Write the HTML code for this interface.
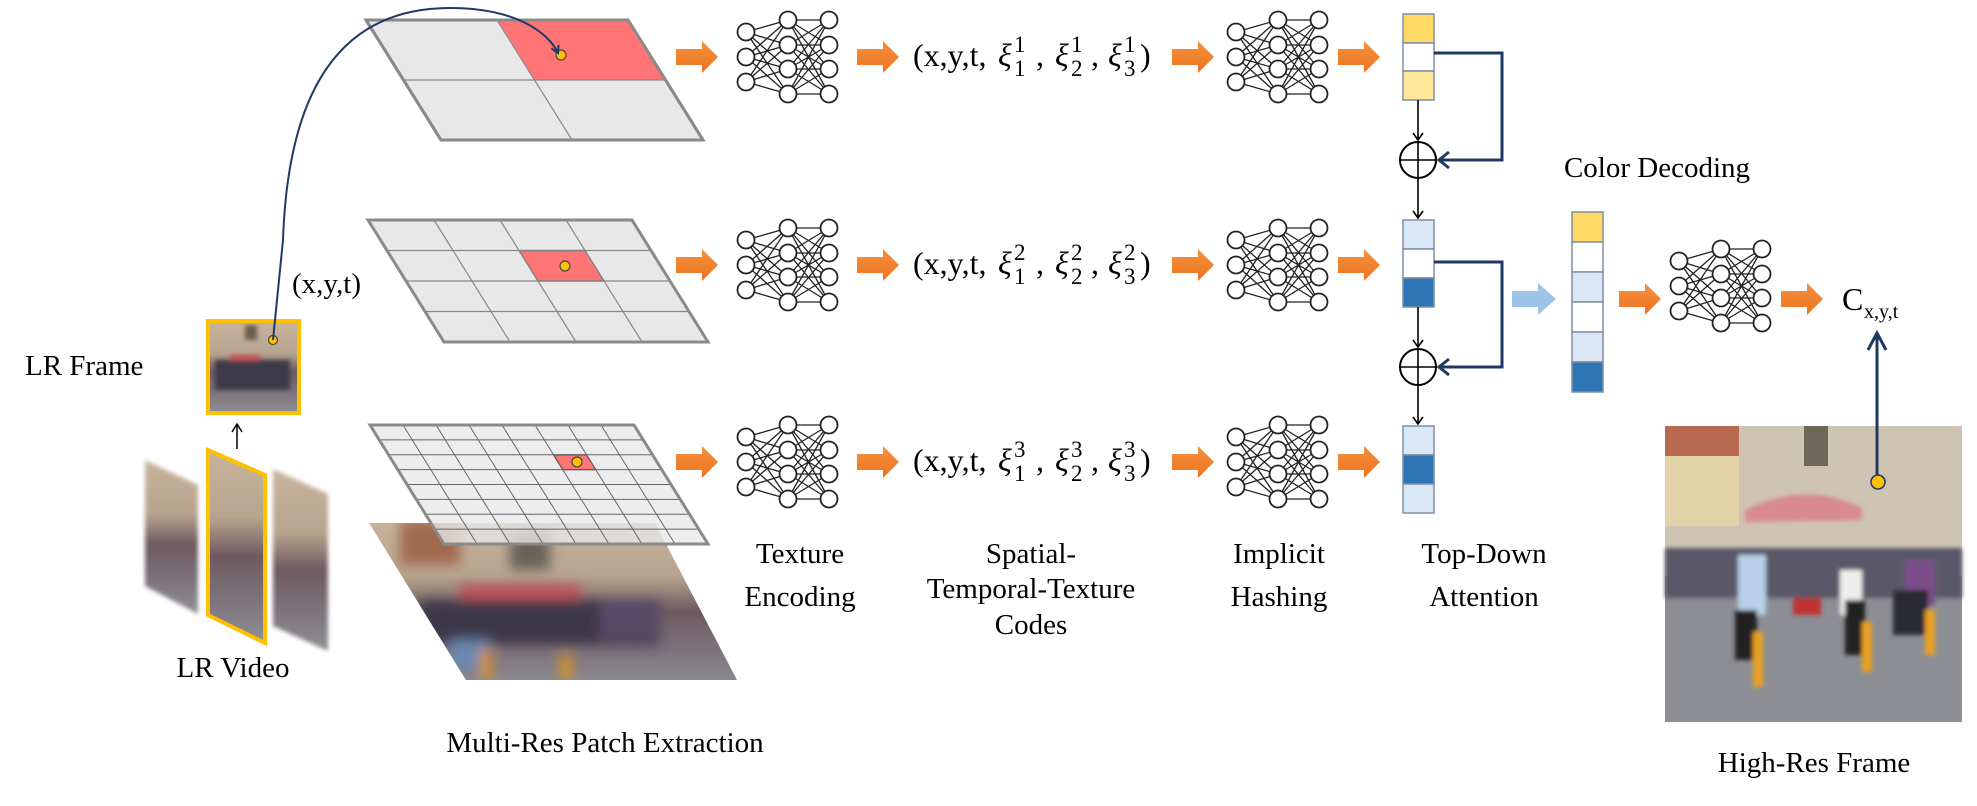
<!DOCTYPE html>
<html><head><meta charset="utf-8"><style>
html,body{margin:0;padding:0;background:#fff;}
svg{display:block;}
text{font-family:"Liberation Serif",serif;fill:#000;}
</style></head><body>
<svg width="1977" height="806" viewBox="0 0 1977 806" xmlns="http://www.w3.org/2000/svg">
<defs>
<g id="nn" stroke="#222" stroke-width="1.3" fill="none">
<path d="M9,21L51,9M9,21L51,34M9,21L51,58M9,21L51,83M9,46L51,9M9,46L51,34M9,46L51,58M9,46L51,83M9,71L51,9M9,71L51,34M9,71L51,58M9,71L51,83"/>
<path d="M51,9L92,9M51,9L92,34M51,9L92,58M51,9L92,83M51,34L92,9M51,34L92,34M51,34L92,58M51,34L92,83M51,58L92,9M51,58L92,34M51,58L92,58M51,58L92,83M51,83L92,9M51,83L92,34M51,83L92,58M51,83L92,83"/>
<g fill="#fff" stroke-width="1.8">
<circle cx="9" cy="21" r="8.5"/><circle cx="9" cy="46" r="8.5"/><circle cx="9" cy="71" r="8.5"/>
<circle cx="51" cy="9" r="8.5"/><circle cx="51" cy="34" r="8.5"/><circle cx="51" cy="58" r="8.5"/><circle cx="51" cy="83" r="8.5"/>
<circle cx="92" cy="9" r="8.5"/><circle cx="92" cy="34" r="8.5"/><circle cx="92" cy="58" r="8.5"/><circle cx="92" cy="83" r="8.5"/>
</g></g>
<linearGradient id="og" x1="0" y1="0" x2="0" y2="1"><stop offset="0" stop-color="#f4913e"/><stop offset="1" stop-color="#ee7320"/></linearGradient>
<polygon id="arr" points="0,-8 26,-8 26,-16 42,0 26,16 26,8 0,8" fill="url(#og)"/>
<linearGradient id="street" x1="0" y1="0" x2="0" y2="1">
<stop offset="0" stop-color="#c8b49c"/><stop offset="0.35" stop-color="#b7a48f"/><stop offset="0.55" stop-color="#6e5a60"/><stop offset="0.75" stop-color="#7c7078"/><stop offset="1" stop-color="#8e8f95"/></linearGradient>
<filter id="bl"><feGaussianBlur stdDeviation="6"/></filter>
<filter id="bl2"><feGaussianBlur stdDeviation="2"/></filter>
<clipPath id="cpimg"><polygon points="369,523 655,523 737,680 466,680"/></clipPath>
<clipPath id="cplr"><rect x="208" y="321" width="91" height="92"/></clipPath>
<marker id="mk" markerWidth="10" markerHeight="10" refX="8" refY="5" orient="auto" markerUnits="userSpaceOnUse"><path d="M1,1L8,5L1,9" fill="none" stroke="#1f3864" stroke-width="2"/></marker>
</defs>

<polygon points="366,20 628,20 703,140 441,140" fill="#e8e8e8" stroke="#8a8a8a" stroke-width="3"/>
<polygon points="497,20 628,20 665.5,80 534.5,80" fill="#ff7575"/>
<g stroke="#888" stroke-width="1.2"><line x1="403.5" y1="80" x2="665.5" y2="80"/><line x1="497" y1="20" x2="572" y2="140"/></g>
<polygon points="366,20 628,20 703,140 441,140" fill="none" stroke="#8a8a8a" stroke-width="3"/>
<circle cx="561" cy="55" r="5" fill="#ffc000" stroke="#444" stroke-width="1.2"/>

<polygon points="368,220 632,220 708,342 444,342" fill="#e8e8e8"/>
<polygon points="519,250.5 585,250.5 604,281 538,281" fill="#ff7575" stroke="#333" stroke-width="1.2"/>
<g stroke="#888" stroke-width="1.2">
<line x1="434" y1="220" x2="510" y2="342"/><line x1="500" y1="220" x2="576" y2="342"/><line x1="566" y1="220" x2="642" y2="342"/>
<line x1="387" y1="250.5" x2="651" y2="250.5"/><line x1="406" y1="281" x2="670" y2="281"/><line x1="425" y1="311.5" x2="689" y2="311.5"/>
</g>
<polygon points="368,220 632,220 708,342 444,342" fill="none" stroke="#8a8a8a" stroke-width="3"/>
<circle cx="565" cy="266" r="5" fill="#ffc000" stroke="#444" stroke-width="1.2"/>

<g clip-path="url(#cpimg)">
<rect x="360" y="515" width="390" height="175" fill="url(#street)"/>
<g filter="url(#bl)">
<rect x="400" y="520" width="60" height="45" fill="#a06a50"/>
<rect x="510" y="530" width="40" height="40" fill="#6a6258"/>
<rect x="460" y="585" width="120" height="14" fill="#c0505a"/>
<rect x="420" y="600" width="240" height="45" fill="#3d3848"/>
<rect x="450" y="640" width="40" height="30" fill="#6a88b0"/>
<rect x="600" y="600" width="60" height="40" fill="#584868"/>
<rect x="480" y="650" width="12" height="30" fill="#d89020"/>
<rect x="560" y="655" width="12" height="25" fill="#d89020"/>
</g>
</g>

<polygon points="370,425 634,425 708,544 444,544" fill="#e8e8e8" fill-opacity="0.78"/>
<polygon points="553.5,454.8 586.5,454.8 595.8,469.6 562.8,469.6" fill="#ff7575" stroke="#333" stroke-width="1.2"/>
<g stroke="#666" stroke-width="1">
<line x1="403" y1="425" x2="477" y2="544"/><line x1="436" y1="425" x2="510" y2="544"/><line x1="469" y1="425" x2="543" y2="544"/><line x1="502" y1="425" x2="576" y2="544"/><line x1="535" y1="425" x2="609" y2="544"/><line x1="568" y1="425" x2="642" y2="544"/><line x1="601" y1="425" x2="675" y2="544"/>
<line x1="379.3" y1="439.9" x2="643.3" y2="439.9"/><line x1="388.5" y1="454.8" x2="652.5" y2="454.8"/><line x1="397.8" y1="469.6" x2="661.8" y2="469.6"/><line x1="407" y1="484.5" x2="671" y2="484.5"/><line x1="416.3" y1="499.4" x2="680.3" y2="499.4"/><line x1="425.5" y1="514.3" x2="689.5" y2="514.3"/><line x1="434.8" y1="529.1" x2="698.8" y2="529.1"/>
</g>
<polygon points="370,425 634,425 708,544 444,544" fill="none" stroke="#8a8a8a" stroke-width="3"/>
<circle cx="577" cy="462" r="5" fill="#ffc000" stroke="#444" stroke-width="1.2"/>

<g clip-path="url(#cplr)">
<rect x="208" y="321" width="91" height="92" fill="url(#street)"/>
<g filter="url(#bl2)"><rect x="215" y="360" width="75" height="30" fill="#3e3a4a"/><rect x="230" y="355" width="30" height="6" fill="#c05058"/><rect x="245" y="325" width="12" height="15" fill="#6a5e50"/></g>
</g>
<rect x="208" y="321" width="91" height="92" fill="none" stroke="#ffc000" stroke-width="4"/>
<circle cx="273" cy="340" r="4.5" fill="#ffc000" stroke="#444" stroke-width="1.2"/>

<path d="M273,340 L283,240 C288,90 340,8 450,8 C515,8 548,32 558,53" fill="none" stroke="#1f3864" stroke-width="2" marker-end="url(#mk)"/>

<line x1="237" y1="449" x2="237" y2="425" stroke="#000" stroke-width="1.5"/>
<path d="M232,432L237,424L242,432" fill="none" stroke="#000" stroke-width="1.5"/>

<polygon points="145,460 198,485 198,614 145,586" fill="url(#street)" filter="url(#bl2)"/>
<polygon points="273,469 328,494 328,651 273,626" fill="url(#street)" filter="url(#bl2)"/>
<polygon points="208,450 265,475 265,643 208,615" fill="url(#street)" stroke="#ffc000" stroke-width="4"/>

<use href="#arr" x="676" y="57"/><use href="#arr" x="857" y="57"/><use href="#arr" x="1172" y="57"/><use href="#arr" x="1338" y="57"/>
<use href="#arr" x="676" y="265"/><use href="#arr" x="857" y="265"/><use href="#arr" x="1172" y="265"/><use href="#arr" x="1338" y="265"/>
<use href="#arr" x="676" y="462"/><use href="#arr" x="857" y="462"/><use href="#arr" x="1172" y="462"/><use href="#arr" x="1338" y="462"/>
<use href="#arr" x="1619" y="299"/><use href="#arr" x="1781" y="299"/>
<polygon points="1512,291 1538,291 1538,283 1556,299 1538,315 1538,307 1512,307" fill="#9dc3e6"/>

<use href="#nn" x="737" y="11"/><use href="#nn" x="1227" y="11"/>
<use href="#nn" x="737" y="219"/><use href="#nn" x="1227" y="219"/>
<use href="#nn" x="737" y="416"/><use href="#nn" x="1227" y="416"/>
<use href="#nn" x="1670" y="240"/>

<g font-size="32">
<text x="913" y="66">(x,y,t,</text><text x="998" y="66" font-style="italic">ξ</text><text x="1036" y="66">,</text><text x="1055" y="66" font-style="italic">ξ</text><text x="1091" y="66">,</text><text x="1108" y="66" font-style="italic">ξ</text><text x="1140" y="66">)</text>
<text x="913" y="274">(x,y,t,</text><text x="998" y="274" font-style="italic">ξ</text><text x="1036" y="274">,</text><text x="1055" y="274" font-style="italic">ξ</text><text x="1091" y="274">,</text><text x="1108" y="274" font-style="italic">ξ</text><text x="1140" y="274">)</text>
<text x="913" y="471">(x,y,t,</text><text x="998" y="471" font-style="italic">ξ</text><text x="1036" y="471">,</text><text x="1055" y="471" font-style="italic">ξ</text><text x="1091" y="471">,</text><text x="1108" y="471" font-style="italic">ξ</text><text x="1140" y="471">)</text>
</g>
<g font-size="23" font-family="'Liberation Sans',sans-serif">
<text x="1014" y="52">1</text><text x="1014" y="76">1</text><text x="1071" y="52">1</text><text x="1071" y="76">2</text><text x="1124" y="52">1</text><text x="1124" y="76">3</text>
<text x="1014" y="260">2</text><text x="1014" y="284">1</text><text x="1071" y="260">2</text><text x="1071" y="284">2</text><text x="1124" y="260">2</text><text x="1124" y="284">3</text>
<text x="1014" y="457">3</text><text x="1014" y="481">1</text><text x="1071" y="457">3</text><text x="1071" y="481">2</text><text x="1124" y="457">3</text><text x="1124" y="481">3</text>
</g>

<g stroke="#7f8fa6" stroke-width="1.5">
<rect x="1403" y="14" width="31" height="29" fill="#ffd966"/><rect x="1403" y="43" width="31" height="28" fill="#fff"/><rect x="1403" y="71" width="31" height="29" fill="#ffe699"/>
<rect x="1403" y="220" width="31" height="29" fill="#dae8f6"/><rect x="1403" y="249" width="31" height="29" fill="#fff"/><rect x="1403" y="278" width="31" height="29" fill="#2e75b6"/>
<rect x="1403" y="426" width="31" height="29" fill="#dae8f6"/><rect x="1403" y="455" width="31" height="29" fill="#2e75b6"/><rect x="1403" y="484" width="31" height="29" fill="#dae8f6"/>
<rect x="1572" y="212" width="31" height="30" fill="#ffd966"/><rect x="1572" y="242" width="31" height="30" fill="#fff"/><rect x="1572" y="272" width="31" height="30" fill="#dae8f6"/><rect x="1572" y="302" width="31" height="30" fill="#fff"/><rect x="1572" y="332" width="31" height="30" fill="#dae8f6"/><rect x="1572" y="362" width="31" height="30" fill="#2e75b6"/>
</g>

<g stroke="#000" stroke-width="1.6" fill="none">
<line x1="1418" y1="100" x2="1418" y2="140"/><path d="M1413,133L1418,140L1423,133"/>
<circle cx="1418" cy="160" r="18" stroke-width="2"/><line x1="1400" y1="160" x2="1436" y2="160"/><line x1="1418" y1="142" x2="1418" y2="178"/>
<line x1="1418" y1="178" x2="1418" y2="218"/><path d="M1413,211L1418,218L1423,211"/>
<line x1="1418" y1="307" x2="1418" y2="347"/><path d="M1413,340L1418,347L1423,340"/>
<circle cx="1418" cy="367" r="18" stroke-width="2"/><line x1="1400" y1="367" x2="1436" y2="367"/><line x1="1418" y1="349" x2="1418" y2="385"/>
<line x1="1418" y1="385" x2="1418" y2="424"/><path d="M1413,417L1418,424L1423,417"/>
</g>
<g stroke="#1f3864" stroke-width="3" fill="none">
<path d="M1434,53H1502V160H1438"/><path d="M1449,152L1439,160L1449,168"/>
<path d="M1434,262H1502V367H1438"/><path d="M1449,359L1439,367L1449,375"/>
</g>

<rect x="1665" y="426" width="297" height="296" fill="#8c8e94"/>
<rect x="1665" y="426" width="297" height="150" fill="#cfc3b4"/>
<rect x="1665" y="426" width="74" height="30" fill="#b86a50"/>
<rect x="1665" y="456" width="74" height="70" fill="#e4d3a8"/>
<rect x="1804" y="426" width="24" height="40" fill="#6e6658"/>
<g filter="url(#bl2)">
<path d="M1745,510 Q1805,480 1862,508 L1862,520 L1745,522Z" fill="#d88a90"/>
<rect x="1793" y="575" width="28" height="40" fill="#c03030"/>
<rect x="1665" y="548" width="297" height="50" fill="#5a5868"/>
<rect x="1738" y="555" width="28" height="60" fill="#b8d0e8"/>
<rect x="1735" y="610" width="22" height="50" fill="#222"/>
<rect x="1840" y="570" width="22" height="45" fill="#eee"/>
<rect x="1845" y="600" width="20" height="55" fill="#222"/>
<rect x="1905" y="560" width="30" height="45" fill="#7a4e8a"/>
<rect x="1893" y="590" width="35" height="45" fill="#2a2a30"/>
<rect x="1753" y="632" width="10" height="55" fill="#e8a020"/>
<rect x="1862" y="622" width="10" height="50" fill="#e8a020"/>
<rect x="1925" y="610" width="10" height="45" fill="#e8a020"/>
</g>
<line x1="1877" y1="482" x2="1877" y2="334" stroke="#1f3864" stroke-width="3"/>
<path d="M1868,350L1877,333L1886,350" fill="none" stroke="#1f3864" stroke-width="3"/>
<circle cx="1878" cy="482" r="7" fill="#ffc000" stroke="#1f3864" stroke-width="1.5"/>

<g font-size="29">
<text x="292" y="293">(x,y,t)</text>
<text x="25" y="375">LR Frame</text>
<text x="233" y="677" text-anchor="middle">LR Video</text>
<text x="605" y="752" text-anchor="middle">Multi-Res Patch Extraction</text>
<text x="800" y="563" text-anchor="middle">Texture</text><text x="800" y="606" text-anchor="middle">Encoding</text>
<text x="1031" y="563" text-anchor="middle">Spatial-</text><text x="1031" y="598" text-anchor="middle">Temporal-Texture</text><text x="1031" y="634" text-anchor="middle">Codes</text>
<text x="1279" y="563" text-anchor="middle">Implicit</text><text x="1279" y="606" text-anchor="middle">Hashing</text>
<text x="1484" y="563" text-anchor="middle">Top-Down</text><text x="1484" y="606" text-anchor="middle">Attention</text>
<text x="1657" y="177" text-anchor="middle">Color Decoding</text>
<text x="1814" y="772" text-anchor="middle">High-Res Frame</text>
<text x="1842" y="310" font-size="32">C</text><text x="1864" y="318" font-size="20">x,y,t</text>
</g>
</svg>
</body></html>
